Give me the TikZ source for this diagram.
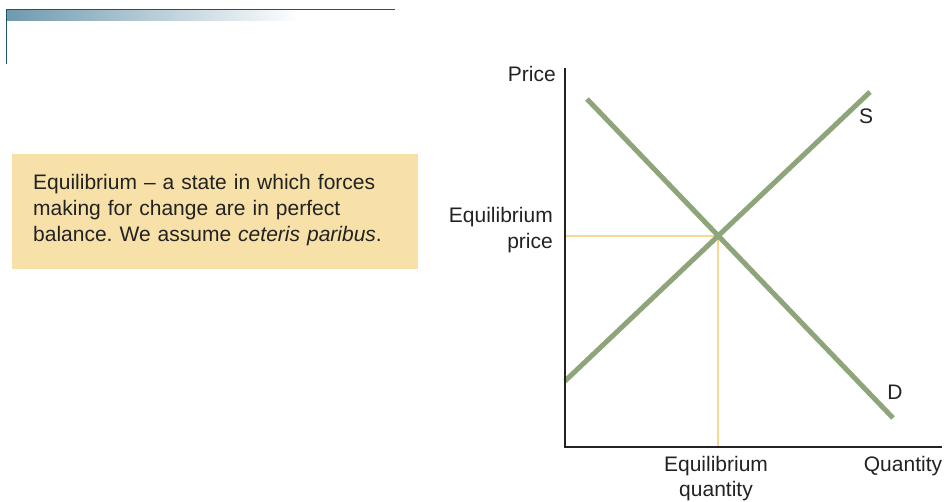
\documentclass[tikz,border=0pt]{standalone}
\usepackage{fontspec}
\setmainfont{Liberation Sans}
\frenchspacing
\definecolor{teal}{HTML}{1F5566}
\definecolor{bar}{HTML}{6F9AAF}
\definecolor{boxfill}{HTML}{F7E1A8}
\definecolor{curve}{HTML}{8EA47A}
\definecolor{guide}{HTML}{F5D891}
\definecolor{axis}{HTML}{222222}
\tikzset{
  lbl/.style={font=\fontsize{21}{25.5}\selectfont, text=axis, inner sep=0pt},
  curveline/.style={draw=curve, line width=5pt},
  guideline/.style={draw=guide, line width=1.8pt},
  axisline/.style={draw=axis, line width=2.5pt},
}
\begin{document}
\begin{tikzpicture}[x=1pt,y=-1pt]
\useasboundingbox (0,0) rectangle (947,501);
% decoration
\shade[left color=bar, right color=white] (7,10.5) rectangle (300,20);
\draw[teal, line width=1.2pt] (395,9.5) -- (6.5,9.5) -- (6.5,64);
% definition box
\node[fill=boxfill, minimum width=406pt, minimum height=115pt, anchor=north west, inner sep=0pt] (box) at (12,154) {};
\node[lbl, anchor=north west, align=left, text width=385pt, font=\fontsize{21}{26}\selectfont] (deftext) at (33,174)
  {Equilibrium -- a state in which forces\\making for change are in perfect\\balance. We assume \textit{ceteris paribus}.};
% axes
\coordinate (origin) at (565,447);
\coordinate (ytop) at (565,68);
\coordinate (xend) at (942,447);
\coordinate (eq) at (718,236);
\coordinate (eqy) at (566,236);
\coordinate (eqx) at (718,446);
\draw[guideline] (eqy) -- (eq) -- (eqx);
\coordinate (s1) at (565,381);
\coordinate (s2) at (870,92);
\coordinate (d1) at (587,99);
\coordinate (d2) at (893,418);
\draw[curveline] (s1) -- (s2);
\draw[curveline] (d1) -- (d2);
\draw[axisline] (ytop) -- (origin) -- (xend);
% labels
\node[lbl, anchor=east] (price) at (556,74) {Price};
\node[lbl, anchor=east, align=right] (eqprice) at (553,230) {Equilibrium\\price};
\node[lbl, anchor=north, align=center] (eqqty) at (716,456) {Equilibrium\\quantity};
\node[lbl, anchor=north] (qty) at (903,456) {Quantity};
\node[lbl] (slab) at (866,116) {S};
\node[lbl] (dlab) at (895,392) {D};
\end{tikzpicture}
\end{document}
